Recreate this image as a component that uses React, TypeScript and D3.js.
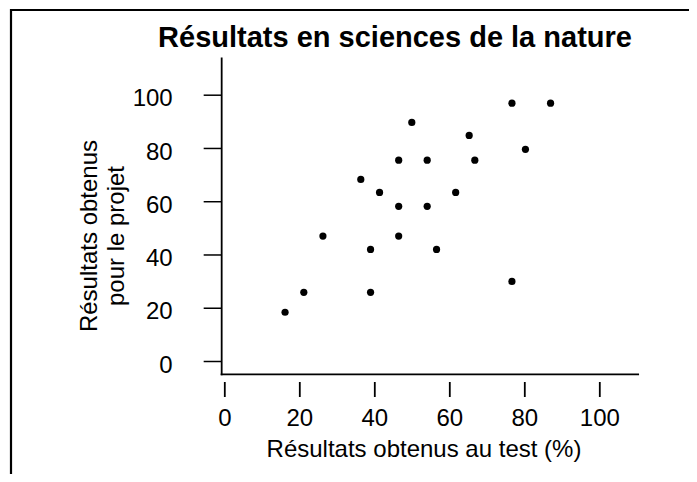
import * as d3 from 'd3';
import { useRef, useEffect } from 'react';

// Résultats au test (%) et résultats obtenus pour le projet
const testScores = [
  16.2, 21.2, 26.3, 36.4, 39.0, 39.0, 41.4, 46.5, 46.5, 46.5, 50.0,
  54.1, 54.1, 56.6, 65.3, 66.8, 61.7, 76.7, 76.7, 87.0, 80.3,
];
const projectScores = [
  18.3, 25.8, 46.9, 68.2, 41.9, 25.8, 63.3, 75.4, 58.1, 46.9, 89.6,
  75.4, 58.1, 41.9, 84.7, 75.4, 63.3, 96.8, 29.9, 96.8, 79.5,
];
const xTicks = [0, 20, 40, 60, 80, 100];
const yTicks = [0, 20, 40, 60, 80, 100];

const title = 'Résultats en sciences de la nature';
const xLabel = 'Résultats obtenus au test (%)';
const yLabelLines = ['Résultats obtenus', 'pour le projet'];

const FONT = '"Liberation Sans", Arial, Helvetica, sans-serif';

/**
 * Nuage de points : résultats au test contre résultats du projet
 */
const ScatterChart = () => {
  const svgRef = useRef<SVGSVGElement | null>(null);

  useEffect(() => {
    const width = 697;
    const height = 482;

    const xScale = d3.scaleLinear().domain([0, 100]).range([224.3, 599.3]);
    const yScale = d3.scaleLinear().domain([0, 100]).range([361, 94.7]);

    d3.select(svgRef.current).selectAll('*').remove();

    const svg = d3
      .select(svgRef.current)
      .attr('width', width)
      .attr('height', height)
      .style('display', 'block')
      .style('font-family', FONT);

    // Cadre (haut et gauche)
    svg
      .append('path')
      .attr('d', `M11,${height} L11,10 L${width},10`)
      .attr('fill', 'none')
      .attr('stroke', '#000')
      .attr('stroke-width', 2.2);

    // Titre
    svg
      .append('text')
      .attr('x', 395)
      .attr('y', 47)
      .attr('text-anchor', 'middle')
      .attr('font-size', '29px')
      .attr('font-weight', 'bold')
      .attr('fill', '#000')
      .text(title);

    const axisX = xScale(-0.7);
    const axisY = yScale(-5);

    // Axe Y : ligne
    svg
      .append('line')
      .attr('x1', axisX)
      .attr('x2', axisX)
      .attr('y1', yScale(114))
      .attr('y2', axisY + 1)
      .attr('stroke', '#000')
      .attr('stroke-width', 1.8);

    // Axe X : ligne
    svg
      .append('line')
      .attr('x1', axisX - 1)
      .attr('x2', xScale(110.6))
      .attr('y1', axisY)
      .attr('y2', axisY)
      .attr('stroke', '#000')
      .attr('stroke-width', 1.8);

    // Graduations Y
    const yAxis = svg
      .append('g')
      .attr('transform', `translate(${axisX},0)`)
      .call(d3.axisLeft(yScale).tickValues(yTicks).tickSize(18).tickPadding(31));
    yAxis.select('.domain').remove();
    yAxis.selectAll('line').attr('stroke', '#000').attr('stroke-width', 1.5);
    yAxis
      .selectAll('text')
      .attr('font-family', FONT)
      .attr('font-size', '24px')
      .attr('fill', '#000')
      .attr('dy', '0.46em');

    // Graduations X (détachées de l'axe)
    const xAxis = svg
      .append('g')
      .attr('transform', `translate(0,382)`)
      .call(d3.axisBottom(xScale).tickValues(xTicks).tickSize(15).tickPadding(12));
    xAxis.select('.domain').remove();
    xAxis.selectAll('line').attr('stroke', '#000').attr('stroke-width', 1.8);
    xAxis
      .selectAll('text')
      .attr('font-family', FONT)
      .attr('font-size', '24px')
      .attr('fill', '#000');

    // Titres des axes
    svg
      .append('text')
      .attr('x', 424)
      .attr('y', 457)
      .attr('text-anchor', 'middle')
      .attr('font-size', '24px')
      .attr('fill', '#000')
      .text(xLabel);

    const yLabel = svg
      .append('text')
      .attr('transform', 'translate(97,236) rotate(-90)')
      .attr('text-anchor', 'middle')
      .attr('font-size', '24px')
      .attr('fill', '#000');
    yLabelLines.forEach((line, i) => {
      yLabel
        .append('tspan')
        .attr('x', 0)
        .attr('dy', i === 0 ? 0 : 26.5)
        .text(line);
    });

    // Points
    testScores.forEach((t, i) => {
      svg
        .append('circle')
        .attr('cx', xScale(t))
        .attr('cy', yScale(projectScores[i]))
        .attr('r', 3.6)
        .attr('fill', '#000');
    });
  }, []);

  return <svg ref={svgRef} />;
};

export default function App() {
  return (
    <div style={{ margin: -8 }}>
      <ScatterChart />
    </div>
  );
}
